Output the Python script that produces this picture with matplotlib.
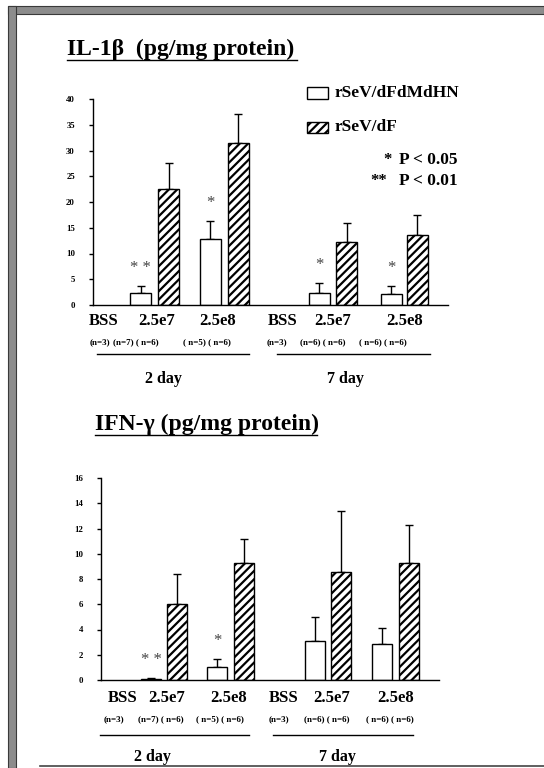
import numpy as np
import matplotlib
matplotlib.use("Agg")
import matplotlib.pyplot as plt
from matplotlib.patches import Rectangle
from matplotlib.lines import Line2D

# Data (BSS groups have no measurable cytokine)
groups = ["BSS", "2.5e7", "2.5e8", "BSS", "2.5e7", "2.5e8"]
n_labels = ["(n=3)", "(n=7) ( n=6)", "( n=5) ( n=6)", "(n=3)", "(n=6) ( n=6)", "( n=6) ( n=6)"]
days = ["2 day", "7 day"]

il1b_open = [0.0, 2.3, 12.9, 0.0, 2.3, 2.2]
il1b_open_sd = [0.0, 1.45, 3.5, 0.0, 2.0, 1.5]
il1b_hatch = [np.nan, 22.5, 31.4, np.nan, 12.2, 13.5]
il1b_hatch_sd = [0.0, 5.1, 5.7, 0.0, 3.7, 3.9]
il1b_stars = ["", "* *", "*", "", "*", "*"]

ifng_open = [0.0, 0.1, 1.05, 0.0, 3.05, 2.85]
ifng_open_sd = [0.0, 0.05, 0.6, 0.0, 1.95, 1.25]
ifng_hatch = [np.nan, 6.0, 9.3, np.nan, 8.55, 9.25]
ifng_hatch_sd = [0.0, 2.4, 1.9, 0.0, 4.85, 3.05]
ifng_stars = ["", "* *", "*", "", "", ""]

W, H = 544, 768
plt.rcParams['hatch.linewidth'] = 1.6
SERIF = ['Liberation Serif', 'DejaVu Serif']

fig = plt.figure(figsize=(W / 100, H / 100), dpi=100)


def ftext(x, y, s, **kw):
    """ text placed in pixel coordinates of the figure """
    kw.setdefault('ha', 'center')
    kw.setdefault('va', 'center')
    kw.setdefault('family', SERIF)
    return fig.text(x / W, 1 - y / H, s, **kw)


def fline(x0, x1, y, lw=1.0, color='k'):
    fig.add_artist(Line2D([x0 / W, x1 / W], [1 - y / H, 1 - y / H], lw=lw, color=color,
                          transform=fig.transFigure))


def panel(left, right, y0, ytop, ymax, ystep, opn, opn_sd, hat, hat_sd, stars,
          open_x, hatch_x, bw, grp_x, n_x, lbl_y, n_y, line_y, line_spans, day_x, day_y):
    ax = fig.add_axes([left / W, 1 - y0 / H, (right - left) / W, (y0 - ytop) / H])
    ax.set_xlim(left, right)
    ax.set_ylim(0, ymax)
    for s in ('top', 'right'):
        ax.spines[s].set_visible(False)
    ax.spines['left'].set_linewidth(1.0)
    ax.spines['bottom'].set_linewidth(1.0)
    ax.set_xticks([])
    ax.set_yticks(np.arange(0, ymax + 0.1, ystep))
    ax.set_yticklabels([f"{int(v)}" for v in np.arange(0, ymax + 0.1, ystep)])
    ax.tick_params(axis='y', length=3, width=1, pad=10, labelsize=6.3)
    for t in ax.get_yticklabels():
        t.set_family(SERIF)
        t.set_fontweight('bold')

    opn = np.asarray(opn)
    hat = np.asarray(hat)
    m = opn > 0
    ax.bar(np.asarray(open_x)[m], opn[m], width=bw, color='white', edgecolor='k', lw=1.0, zorder=2)
    ax.errorbar(np.asarray(open_x)[m], opn[m], yerr=[np.zeros(m.sum()), np.asarray(opn_sd)[m]],
                fmt='none', ecolor='k', elinewidth=1.0, capsize=3, capthick=1.0, zorder=1)
    h = ~np.isnan(hat)
    ax.bar(np.asarray(hatch_x)[h], hat[h], width=bw, color='white', edgecolor='k', lw=1.0,
           hatch='////', zorder=2)
    ax.errorbar(np.asarray(hatch_x)[h], hat[h], yerr=[np.zeros(h.sum()), np.asarray(hat_sd)[h]],
                fmt='none', ecolor='k', elinewidth=1.0, capsize=3, capthick=1.0, zorder=1)
    for x, v, sd, st in zip(open_x, opn, opn_sd, stars):
        if st:
            ax.annotate(st, (x, v + sd), xytext=(0, 7), textcoords='offset points',
                        ha='center', va='bottom', fontsize=12, family=SERIF, color='#444444')

    for x, g in zip(grp_x, groups):
        ftext(x, lbl_y, g, fontsize=12, fontweight='bold')
    for x, n in zip(n_x, n_labels):
        ftext(x, n_y, n, fontsize=6.5, fontweight='bold')
    for (a, b) in line_spans:
        fline(a, b, line_y, lw=1.0)
    for x, d in zip(day_x, days):
        ftext(x, day_y, d, fontsize=11.5, fontweight='bold')
    return ax


# IL-1beta panel
panel(93, 448, 305, 99, 40, 5, il1b_open, il1b_open_sd, il1b_hatch, il1b_hatch_sd, il1b_stars,
      [104, 140.5, 210, 283, 319, 391], [104, 168.5, 238, 283, 346.5, 417], 21,
      [104, 157, 218, 283, 333, 405], [100, 136, 207, 277, 323, 383],
      321, 342, 354, [(97, 249), (277, 430)], [163, 345], 379)

# IFN-gamma panel
panel(101, 439, 680, 478, 16, 2, ifng_open, ifng_open_sd, ifng_hatch, ifng_hatch_sd, ifng_stars,
      [123, 151, 217, 284, 315, 382], [123, 177, 244, 284, 341, 409], 20,
      [123, 167, 229, 284, 332, 396], [114, 161, 220, 279, 327, 390],
      698, 719, 735, [(100, 249), (273, 413)], [152, 337], 757)

# titles
ftext(67, 49, "IL-1β  (pg/mg protein)", ha='left', fontsize=17, fontweight='bold')
fline(67, 297, 60, lw=1.0)
ftext(95, 424, "IFN-γ (pg/mg protein)", ha='left', fontsize=17, fontweight='bold')
fline(95, 317, 435, lw=1.0)

# legend
fig.add_artist(Rectangle((307 / W, 1 - 99 / H), 21 / W, 12 / H, transform=fig.transFigure,
                         facecolor='white', edgecolor='k', lw=1.0))
fig.add_artist(Rectangle((307 / W, 1 - 133 / H), 21 / W, 11 / H, transform=fig.transFigure,
                         facecolor='white', edgecolor='k', lw=1.0, hatch='////'))
ftext(335, 93, "rSeV/dFdMdHN", ha='left', fontsize=12.5, fontweight='bold')
ftext(335, 127, "rSeV/dF", ha='left', fontsize=12.5, fontweight='bold')
ftext(387, 160, "*", fontsize=12, fontweight='bold')
ftext(399, 160, "P < 0.05", ha='left', fontsize=12.5, fontweight='bold')
ftext(379, 181, "**", fontsize=12, fontweight='bold')
ftext(399, 181, "P < 0.01", ha='left', fontsize=12.5, fontweight='bold')

# scanned page frame
fig.add_artist(Rectangle((8 / W, 1 - 14 / H), (W - 8) / W, 8 / H, transform=fig.transFigure,
                         facecolor='#8c8c8c', edgecolor='#3a3a3a', lw=0.8))
fig.add_artist(Rectangle((8 / W, 0), 8 / W, 1 - 6 / H, transform=fig.transFigure,
                         facecolor='#8c8c8c', edgecolor='#3a3a3a', lw=0.8))
fline(40, W, 766, lw=1.2, color='#444444')

fig.savefig("out.png", dpi=100)
